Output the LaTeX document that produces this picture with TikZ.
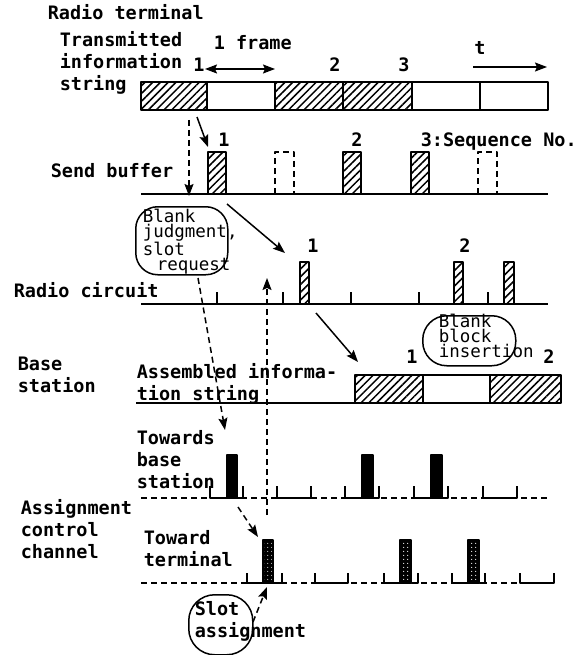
\documentclass[tikz,border=0pt]{standalone}
\usepackage{fontspec}
\newfontfamily\patfont{DejaVu Sans Mono}
\usetikzlibrary{arrows.meta,patterns.meta}
\tikzset{
  lbl/.style={inner sep=0pt, align=left},
  note/.style={inner sep=0pt, align=left, font=\patfont\fontsize{17.5}{14.8}\selectfont},
  seg/.style={draw, inner sep=0pt, outer sep=0pt, minimum height=28pt, anchor=north west},
  hatched/.style={pattern={Lines[angle=45,distance=5.5pt,line width=1.5pt]}},
  pulse/.style={draw, inner sep=0pt, outer sep=0pt, anchor=south west},
  hpulse/.style={pulse, hatched},
  bpulse/.style={pulse, fill=black},
  dpulse/.style={pulse, preaction={fill=black}, pattern={Dots[radius=0.7pt,distance=4pt]}, pattern color=white},
  bubble/.style={draw, inner sep=0pt, anchor=north west},
  dsh/.style={dash pattern=on 6pt off 4pt}
}
\begin{document}
\begin{tikzpicture}[x=1pt, y=-1pt, line width=1.5pt, line join=round,
  >={Stealth[length=12pt,width=9pt,inset=2pt]},
  font=\patfont\bfseries\fontsize{18.5}{22}\selectfont]
\useasboundingbox (0,0) rectangle (582,655);
% radio terminal: transmitted information string
\node[lbl, anchor=base west] (term) at (47,20) {Radio terminal};
\node[lbl, anchor=base west] (tis) at (59,91) {Transmitted\\information\\string};
\node[seg, hatched, minimum width=66pt] (f1) at (141,82) {};
\node[seg, minimum width=68pt] (f2) at (207,82) {};
\node[seg, hatched, minimum width=68pt] (f3) at (275,82) {};
\node[seg, hatched, minimum width=69pt] (f4) at (343,82) {};
\node[seg, minimum width=68pt] (f5) at (412,82) {};
\node[seg, minimum width=68pt] (f6) at (480,82) {};
\node[lbl, anchor=base west] (frm) at (213,50) {1 frame};
\node[lbl, anchor=base] (n1) at (199,72) {1};
\node[lbl, anchor=base] (n2) at (335,72) {2};
\node[lbl, anchor=base] (n3) at (404,72) {3};
\node[lbl, anchor=base] (tm) at (480,55) {t};
\coordinate (fa) at (205,69); \coordinate (fb) at (275,69);
\draw[<->] (fa) -- (fb);
\coordinate (ta) at (473,67); \coordinate (tb) at (547,67);
\draw[->] (ta) -- (tb);
% send buffer
\node[lbl, anchor=base west] (sbuf) at (50,177) {Send buffer};
\draw (141,194) -- (548,194);
\node[hpulse, minimum width=18pt, minimum height=42pt] (s1) at (208,194) {};
\node[hpulse, minimum width=18pt, minimum height=42pt] (s2) at (343,194) {};
\node[hpulse, minimum width=18pt, minimum height=42pt] (s3) at (411,194) {};
\draw[dsh] (275,194) |- (294,152) -- (294,194);
\draw[dsh] (478,194) |- (497,152) -- (497,194);
\node[lbl, anchor=base] (m1) at (224,147) {1};
\node[lbl, anchor=base] (m2) at (357,147) {2};
\node[lbl, anchor=base west] (m3) at (420,147) {3:Sequence No.};
\coordinate (b1) at (197,117);
\draw[->] (b1) -- ([yshift=5pt]s1.north west);
\coordinate (b2) at (189,120); \coordinate (b3) at (189,196);
\draw[dsh,->] (b2) -- (b3);
% blank judgment
\node[bubble, rounded corners=22pt, minimum width=92pt, minimum height=68pt] (jb) at (135,206) {};
\node[note, anchor=base west] (jt) at (142,270) {Blank\\judgment,\\slot\\\hspace*{0.8em}request};
% radio circuit
\node[lbl, anchor=base west] (rc) at (13,297) {Radio circuit};
\draw (141,304) -- (548,304);
\draw (217,304) -- (217,292) (283,304) -- (283,292) (351,304) -- (351,292)
      (419,304) -- (419,292) (488,304) -- (488,292);
\node[hpulse, minimum width=9pt, minimum height=42pt] (r1) at (300,304) {};
\node[hpulse, minimum width=9pt, minimum height=42pt] (r2) at (454,304) {};
\node[hpulse, minimum width=10pt, minimum height=42pt] (r3) at (504,304) {};
\node[lbl, anchor=base] (k1) at (313,252) {1};
\node[lbl, anchor=base] (k2) at (465,252) {2};
\coordinate (sa) at (227,204); \coordinate (sz) at (285,253);
\draw[->] (sa) -- (sz);
% base station
\node[lbl, anchor=base west] (bs) at (17,392) {Base\\station};
\node[lbl, anchor=base west] (ais) at (136,400) {Assembled informa-\\tion string};
\draw (136,403) -- (355,403);
\node[seg, hatched, minimum width=68pt] (g1) at (355,375) {};
\node[seg, minimum width=67pt] (g2) at (423,375) {};
\node[seg, hatched, minimum width=71pt] (g3) at (490,375) {};
\node[lbl, anchor=base] (h1) at (412,363) {1};
\node[lbl, anchor=base] (h2) at (549,363) {2};
\node[bubble, rounded corners=24pt, minimum width=93pt, minimum height=50pt] (kb) at (422,315) {};
\node[note, anchor=base west] (kt) at (438,357) {Blank\\block\\insertion};
\coordinate (ra) at (316,313); \coordinate (rz) at (358,362);
\draw[->] (ra) -- (rz);
% towards base station
\node[lbl, anchor=base west] (tbs) at (136,488) {Towards\\base\\station};
\draw[dsh] (141,498) -- (548,498);
\draw (210,486) |- (243,498) -- (243,486);
\draw (277,486) |- (311,498) -- (311,486);
\draw (345,486) |- (379,498) -- (379,486);
\draw (414,486) |- (448,498) -- (448,486);
\draw (483,486) |- (517,498) -- (517,486);
\node[bpulse, minimum width=10pt, minimum height=43pt] (u1) at (227,498) {};
\node[bpulse, minimum width=11pt, minimum height=43pt] (u2) at (362,498) {};
\node[bpulse, minimum width=11pt, minimum height=43pt] (u3) at (431,498) {};
\coordinate (ja) at (198,278); \coordinate (jz) at (225,430);
\draw[dsh,->] (ja) -- (jz);
% assignment control channel
\node[lbl, anchor=base west] (acc) at (20,558) {Assignment\\control\\channel};
\node[lbl, anchor=base west] (ttm) at (143,566) {Toward\\terminal};
\draw[dsh] (141,583) -- (554,583);
\draw (247,573) |- (282,583) -- (282,573);
\draw (315,573) |- (348,583) -- (348,573);
\draw (384,573) |- (418,583) -- (418,573);
\draw (452,573) |- (485,583) -- (485,573);
\draw (520,573) |- (554,583) -- (554,573);
\node[dpulse, minimum width=10pt, minimum height=43pt] (v1) at (263,583) {};
\node[dpulse, minimum width=11pt, minimum height=43pt] (v2) at (400,583) {};
\node[dpulse, minimum width=11pt, minimum height=43pt] (v3) at (468,583) {};
\coordinate (ua) at (238,507); \coordinate (uz) at (258,537);
\draw[dsh,->] (ua) -- (uz);
\coordinate (va) at (267,515); \coordinate (vz) at (267,278);
\draw[dsh,->] (va) -- (vz);
% slot assignment
\node[bubble, rounded corners=26pt, minimum width=64pt, minimum height=60pt] (ob) at (188,594) {};
\node[lbl, anchor=base west] (ot) at (194,637) {Slot\\assignment};
\coordinate (oa) at (253,622); \coordinate (oz) at (267,587);
\draw[dsh,->] (oa) -- (oz);
\end{tikzpicture}
\end{document}
